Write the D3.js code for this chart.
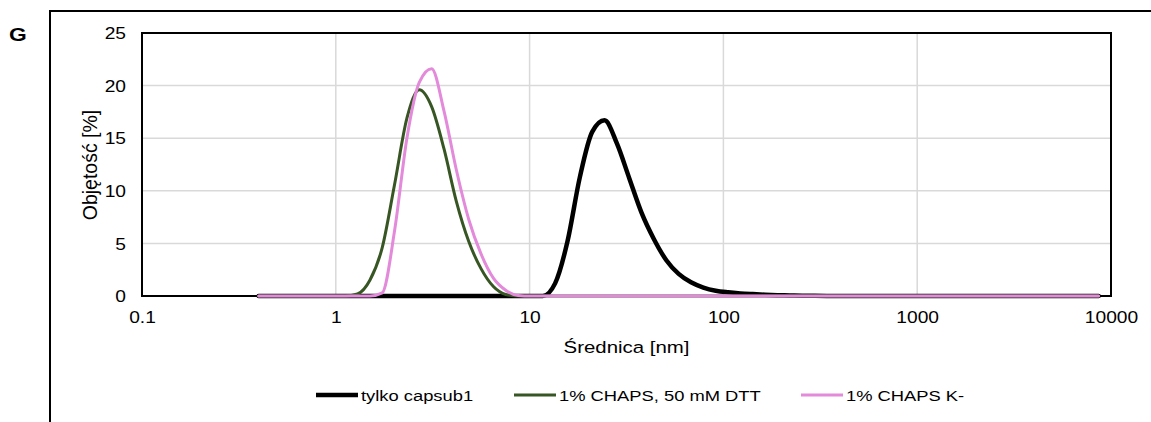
<!DOCTYPE html>
<html>
<head>
<meta charset="utf-8">
<script src="https://cdn.jsdelivr.net/npm/d3@7"></script>
<style>
  html, body { margin: 0; padding: 0; background: #fff; }
  svg { display: block; font-family: "Liberation Sans", Arial, sans-serif; }
</style>
</head>
<body>
<svg id="chart" width="1151" height="422"></svg>
<script>
// ---- Data ----
const sizes = [0.4, 0.4632, 0.5365, 0.6213, 0.7195, 0.8332, 0.9649, 1.117, 1.294, 1.499,
  1.736, 2.01, 2.328, 2.696, 3.122, 3.615, 4.187, 4.849, 5.615, 6.503,
  7.531, 8.721, 10.1, 11.7, 13.54, 15.69, 18.17, 21.04, 24.36, 28.21,
  32.67, 37.84, 43.82, 50.75, 58.77, 68.06, 78.82, 91.28, 105.7, 122.4,
  141.8, 164.2, 190.1, 220.2, 255.0, 295.3, 342.0, 396.1, 458.7, 531.2,
  615.1, 712.4, 825.0, 955.4, 1106, 1281, 1484, 1718, 1990, 2305,
  2669, 3091, 3580, 4145, 4801, 5560, 6439, 7456, 8635];

const capsub1 = [0, 0, 0, 0, 0, 0, 0, 0, 0, 0,
  0, 0, 0, 0, 0, 0, 0, 0, 0, 0,
  0, 0, 0, 0, 1.2, 5.2, 11.3, 15.6, 16.7, 14.5,
  11.2, 7.9, 5.4, 3.4, 2.1, 1.3, 0.8, 0.5, 0.35, 0.25,
  0.18, 0.12, 0.08, 0.05, 0.03, 0.02, 0.01, 0, 0, 0,
  0, 0, 0, 0, 0, 0, 0, 0, 0, 0,
  0, 0, 0, 0, 0, 0, 0, 0, 0];

const chapsDTT = [0, 0, 0, 0, 0, 0, 0, 0, 0.2, 1.5,
  4.6, 10.6, 16.9, 19.6, 18.0, 14.0, 9.0, 5.2, 2.6, 0.9,
  0.15, 0, 0, 0, 0, 0, 0, 0, 0, 0,
  0, 0, 0, 0, 0, 0, 0, 0, 0, 0,
  0, 0, 0, 0, 0, 0, 0, 0, 0, 0,
  0, 0, 0, 0, 0, 0, 0, 0, 0, 0,
  0, 0, 0, 0, 0, 0, 0, 0, 0];

const chapsK = [0, 0, 0, 0, 0, 0, 0, 0, 0, 0,
  0.3, 6.2, 15.0, 20.3, 21.6, 17.6, 12.0, 7.3, 4.0, 1.7,
  0.55, 0.05, 0, 0, 0, 0, 0, 0, 0, 0,
  0, 0, 0, 0, 0, 0, 0, 0, 0, 0,
  0, 0, 0, 0, 0, 0, 0, 0, 0, 0,
  0, 0, 0, 0, 0, 0, 0, 0, 0, 0,
  0, 0, 0, 0, 0, 0, 0, 0, 0];

const seriesNames = ["tylko capsub1", "1% CHAPS, 50 mM DTT", "1% CHAPS K-"];
const xTickValues = [0.1, 1, 10, 100, 1000, 10000];
const xTickLabels = ["0.1", "1", "10", "100", "1000", "10000"];
const yTickValues = [0, 5, 10, 15, 20, 25];
const yTickLabels = ["0", "5", "10", "15", "20", "25"];
const xTitle = "Średnica [nm]";
const yTitle = "Objętość [%]";
const panelLabel = "G";

// ---- Layout ----
const SX = 1.2; // horizontal text stretch seen in the reference
const plot = { left: 142, right: 1111, top: 33, bottom: 296 };
const svg = d3.select("#chart");

const x = d3.scaleLog().domain([0.1, 10000]).range([plot.left, plot.right]);
const y = d3.scaleLinear().domain([0, 25]).range([plot.bottom, plot.top]);

// outer frame
svg.append("rect")
  .attr("x", 50).attr("y", 11)
  .attr("width", 1151).attr("height", 500)
  .attr("fill", "none").attr("stroke", "#000").attr("stroke-width", 2);

function stretchedText(g, tx, ty, txt, size, anchor, weight) {
  return g.append("text")
    .attr("transform", `translate(${tx},${ty}) scale(${SX},1)`)
    .attr("text-anchor", anchor || "start")
    .attr("font-size", size)
    .attr("font-weight", weight || "normal")
    .attr("fill", "#000")
    .text(txt);
}

stretchedText(svg, 9, 41, panelLabel, 19, "start", "bold");

// gridlines
const grid = svg.append("g");
grid.selectAll("line.h").data(yTickValues.slice(1, -1)).join("line")
  .attr("x1", plot.left).attr("x2", plot.right)
  .attr("y1", d => y(d)).attr("y2", d => y(d))
  .attr("stroke", "#d9d9d9").attr("stroke-width", 1.5);
grid.selectAll("line.v").data(xTickValues.slice(1, -1)).join("line")
  .attr("y1", plot.top).attr("y2", plot.bottom)
  .attr("x1", d => x(d)).attr("x2", d => x(d))
  .attr("stroke", "#d9d9d9").attr("stroke-width", 1.5);

// axes (no tick marks)
const xAxis = d3.axisBottom(x).tickValues(xTickValues).tickSize(0)
  .tickFormat((d, i) => xTickLabels[i]);
const gx = svg.append("g").attr("transform", `translate(0,${plot.bottom})`).call(xAxis);
gx.select(".domain").remove();
gx.selectAll("text").attr("y", 0).attr("dy", 0)
  .attr("transform", `translate(0,27) scale(${SX},1)`)
  .attr("font-size", 16).attr("font-family", null).attr("fill", "#000");

const yAxis = d3.axisLeft(y).tickValues(yTickValues).tickSize(0)
  .tickFormat((d, i) => yTickLabels[i]);
const gy = svg.append("g").attr("transform", `translate(${plot.left},0)`).call(yAxis);
gy.select(".domain").remove();
gy.selectAll("text").attr("x", 0).attr("dy", "0.35em")
  .attr("transform", `translate(-16,0) scale(${SX},1)`)
  .attr("font-size", 16).attr("font-family", null).attr("fill", "#000");

// plot border
svg.append("rect")
  .attr("x", plot.left).attr("y", plot.top)
  .attr("width", plot.right - plot.left).attr("height", plot.bottom - plot.top)
  .attr("fill", "none").attr("stroke", "#000").attr("stroke-width", 2);

// titles
stretchedText(svg, (plot.left + plot.right) / 2, 353, xTitle, 17, "middle");
svg.append("text")
  .attr("transform", `translate(97,165) rotate(-90)`)
  .attr("text-anchor", "middle").attr("font-size", 19.5).attr("fill", "#000")
  .text(yTitle);

// series
const series = [
  { name: seriesNames[0], values: capsub1, color: "#000000", width: 4.5 },
  { name: seriesNames[1], values: chapsDTT, color: "#375623", width: 3 },
  { name: seriesNames[2], values: chapsK, color: "#e38adb", width: 3 }
];
const line = d3.line()
  .x((d, i) => x(sizes[i]))
  .y(d => y(d))
  .curve(d3.curveMonotoneX);

svg.append("g").selectAll("path").data(series).join("path")
  .attr("d", s => line(s.values))
  .attr("fill", "none")
  .attr("stroke", s => s.color)
  .attr("stroke-width", s => s.width)
  .attr("stroke-linejoin", "round").attr("stroke-linecap", "round");

// legend
const legendPos = [316, 514, 801];
const legY = 395;
const lg = svg.append("g");
series.forEach((s, i) => {
  lg.append("line")
    .attr("x1", legendPos[i]).attr("x2", legendPos[i] + 42)
    .attr("y1", legY).attr("y2", legY)
    .attr("stroke", s.color).attr("stroke-width", s.width);
  stretchedText(lg, legendPos[i] + 45, legY + 6, s.name, 15.3, "start");
});
</script>
</body>
</html>
